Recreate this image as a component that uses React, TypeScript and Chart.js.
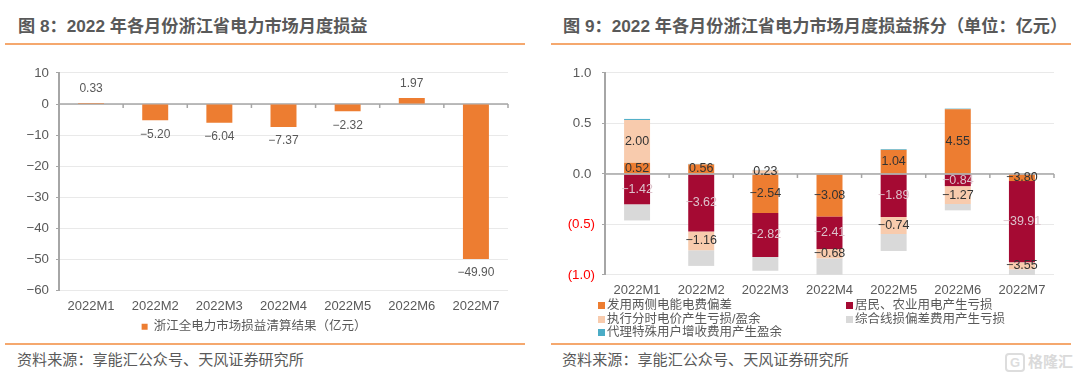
import React, { useEffect, useRef } from "react";
import { Chart, registerables } from "chart.js";
Chart.register(...registerables);

const categories = ["2022M1", "2022M2", "2022M3", "2022M4", "2022M5", "2022M6", "2022M7"];
const settlement = [0.33, -5.2, -6.04, -7.37, -2.32, 1.97, -49.9];
const settlementName = "浙江全电力市场损益清算结果（亿元）";

const deviation = [0.11, 0.095, -0.386, -0.42, 0.238, 0.64, -0.07];
const residential = [-0.3, -0.57, -0.435, -0.323, -0.426, -0.12, -0.805];
const timeOfUse = [0.425, -0.185, 0.036, -0.092, -0.168, -0.177, -0.069];
const lineLoss = [-0.16, -0.155, -0.137, -0.162, -0.168, -0.063, -0.056];
const special = [0.01, 0.005, 0.004, 0, 0.007, 0.007, 0];

const deviationLabels = ["0.52", "0.56", "−2.54", "−3.08", "1.04", "4.55", "−3.80"];
const residentialLabels = ["−1.42", "−3.62", "−2.82", "−2.41", "−1.89", "−0.84", "−39.91"];
const timeOfUseLabels = ["2.00", "−1.16", "0.23", "−0.68", "−0.74", "−1.27", "−3.55"];

const seriesNames = [
  "发用两侧电能电费偏差",
  "居民、农业用电产生亏损",
  "执行分时电价产生亏损/盈余",
  "综合线损偏差费用产生亏损",
  "代理特殊用户增收费用产生盈余",
];
const colors = ["#ED7D31", "#A50A33", "#F8CBAD", "#D9D9D9", "#4BACC6"];

const title8 = "图 8：2022 年各月份浙江省电力市场月度损益";
const title9 = "图 9：2022 年各月份浙江省电力市场月度损益拆分（单位：亿元）";
const source = "资料来源：享能汇公众号、天风证券研究所";
const watermark = "格隆汇";

const FONT = '"Liberation Sans", "Noto Sans CJK SC", sans-serif';
const TEXT = "#595959";
const RULE = "#F5A86E";

const fmt = (v: number) => String(v).replace("-", "−");

const drawZeroLine = (chart: any) => {
  const { ctx, scales } = chart;
  const x = scales.x;
  const zero = scales.y.getPixelForValue(0);
  ctx.save();
  ctx.strokeStyle = "#A6A6A6";
  ctx.lineWidth = 1.5;
  ctx.beginPath();
  ctx.moveTo(x.left, zero);
  ctx.lineTo(x.right, zero);
  const step = x.width / categories.length;
  for (let i = 1; i <= categories.length; i++) {
    const px = x.left + i * step;
    ctx.moveTo(px, zero);
    ctx.lineTo(px, zero + 4);
  }
  ctx.stroke();
  ctx.restore();
};

const scales = (min: number, max: number, stepSize: number, tickFmt: (v: number) => string, tickColor: (v: number) => string, yWidth: number, xHeight: number) => ({
  x: {
    grid: { display: false },
    border: { display: false },
    ticks: { color: TEXT, font: { size: 13, family: FONT }, padding: 0, maxRotation: 0, autoSkip: false },
    afterFit: (s: any) => { s.height = xHeight; },
  },
  y: {
    min, max,
    grid: { color: "#E9E9E9", lineWidth: 1, drawTicks: true, tickLength: 3, tickColor: "#A6A6A6" },
    border: { display: true, color: "#A6A6A6", width: 2 },
    ticks: {
      stepSize,
      color: (c: any) => tickColor(c.tick.value),
      font: { size: 13.3, family: FONT },
      padding: 7,
      callback: (v: any) => tickFmt(Number(v)),
    },
    afterFit: (s: any) => { s.width = yWidth; },
  },
});

function Chart8() {
  const ref = useRef<HTMLCanvasElement>(null);
  useEffect(() => {
    const chart = new Chart(ref.current!, {
      type: "bar",
      data: {
        labels: categories,
        datasets: [{ label: settlementName, data: settlement, backgroundColor: colors[0], barPercentage: 0.405, categoryPercentage: 1 }],
      },
      options: {
        animation: false,
        responsive: false,
        layout: { padding: { top: 8, right: 12, bottom: 0, left: 0 } },
        plugins: {
          tooltip: { enabled: false },
          legend: {
            position: "bottom",
            labels: { color: TEXT, boxWidth: 6, boxHeight: 6, padding: 4, font: { size: 12.5, family: FONT } },
          },
        },
        scales: scales(-60, 10, 10, fmt, () => TEXT, 59, 26),
      } as any,
      plugins: [{
        id: "overlay8",
        beforeDatasetsDraw: drawZeroLine,
        afterDatasetsDraw(c: any) {
          const { ctx } = c;
          ctx.save();
          ctx.font = `12px ${FONT}`;
          ctx.fillStyle = TEXT;
          ctx.textAlign = "center";
          ctx.textBaseline = "middle";
          c.getDatasetMeta(0).data.forEach((bar: any, i: number) => {
            const v = settlement[i];
            const y = v >= 0 ? bar.y - 14 : bar.y + 14;
            ctx.fillText(v.toFixed(2).replace("-", "−"), bar.x, y);
          });
          ctx.restore();
        },
      }],
    });
    return () => chart.destroy();
  }, []);
  return <canvas ref={ref} width={520} height={285} style={{ position: "absolute", left: 0, top: 58, display: "block" }} />;
}

function Chart9() {
  const ref = useRef<HTMLCanvasElement>(null);
  useEffect(() => {
    const series = [deviation, residential, timeOfUse, lineLoss, special];
    const chart = new Chart(ref.current!, {
      type: "bar",
      data: {
        labels: categories,
        datasets: series.map((data, i) => ({
          label: seriesNames[i], data, backgroundColor: colors[i], stack: "s", barPercentage: 0.405, categoryPercentage: 1,
        })),
      },
      options: {
        animation: false,
        responsive: false,
        layout: { padding: { top: 8, right: 4, bottom: 0, left: 0 } },
        plugins: { tooltip: { enabled: false }, legend: { display: false } },
        scales: scales(-1, 1, 0.5, (v) => (v < 0 ? `(${Math.abs(v).toFixed(1)})` : `${v.toFixed(1)} `), (v) => (v < 0 ? "#FF0000" : TEXT), 65, 24),
      } as any,
      plugins: [{
        id: "overlay9",
        afterDatasetsDraw(c: any) {
          drawZeroLine(c);
          const { ctx } = c;
          const groups = [
            { idx: 0, labels: deviationLabels, color: "#333333" },
            { idx: 1, labels: residentialLabels, color: "#DDC3CC" },
            { idx: 2, labels: timeOfUseLabels, color: "#333333" },
          ];
          ctx.save();
          ctx.font = `12.5px ${FONT}`;
          ctx.textAlign = "center";
          ctx.textBaseline = "middle";
          groups.forEach((g) => {
            ctx.fillStyle = g.color;
            c.getDatasetMeta(g.idx).data.forEach((bar: any, i: number) => {
              ctx.fillText(g.labels[i], bar.x, (bar.y + bar.base) / 2);
            });
          });
          ctx.restore();
        },
      }],
    });
    return () => chart.destroy();
  }, []);
  return <canvas ref={ref} width={518} height={241} style={{ position: "absolute", left: 540, top: 58, display: "block" }} />;
}

const abs = (o: React.CSSProperties): React.CSSProperties => ({ position: "absolute", whiteSpace: "nowrap", fontFamily: FONT, ...o });

const legendPos = [
  { left: 598, top: 298 },
  { left: 846, top: 298 },
  { left: 598, top: 312 },
  { left: 846, top: 312 },
  { left: 598, top: 325 },
];

export default function App() {
  return (
    <div style={{ position: "absolute", left: 0, top: 0, width: 1080, height: 378, background: "#fff", overflow: "hidden" }}>
      <div style={abs({ left: 18, top: 16, fontSize: 17.2, fontWeight: 700, color: TEXT, lineHeight: "20px" })}>{title8}</div>
      <div style={abs({ left: 563, top: 16, fontSize: 17.2, fontWeight: 700, color: TEXT, lineHeight: "20px" })}>{title9}</div>
      {[{ l: 5, w: 520 }, { l: 551, w: 520 }].map((b, i) => (
        <React.Fragment key={i}>
          <div style={abs({ left: b.l, top: 43, width: b.w, height: 2, background: RULE })} />
          <div style={abs({ left: b.l, top: 343, width: b.w, height: 2, background: RULE })} />
        </React.Fragment>
      ))}
      <Chart8 />
      <Chart9 />
      {seriesNames.map((n, i) => (
        <div key={n} style={abs({ ...legendPos[i], fontSize: 12.5, lineHeight: "14px", color: TEXT })}>
          <span style={{ display: "inline-block", width: 7, height: 7, background: colors[i], marginRight: 2, verticalAlign: 0 }} />
          {n}
        </div>
      ))}
      <div style={abs({ left: 17, top: 351, fontSize: 15.1, lineHeight: "18px", color: TEXT })}>{source}</div>
      <div style={abs({ left: 562, top: 351, fontSize: 15.1, lineHeight: "18px", color: TEXT })}>{source}</div>
      <div style={abs({ left: 1005, top: 353, width: 16, height: 15, border: "2px solid #DDDDDD", borderRadius: 4, color: "#DDDDDD", fontSize: 13, fontWeight: 700, lineHeight: "15px", textAlign: "center" })}>G</div>
      <div style={abs({ left: 1028, top: 352, fontSize: 15, lineHeight: "20px", color: "#DADADA", fontWeight: 700 })}>{watermark}</div>
    </div>
  );
}
